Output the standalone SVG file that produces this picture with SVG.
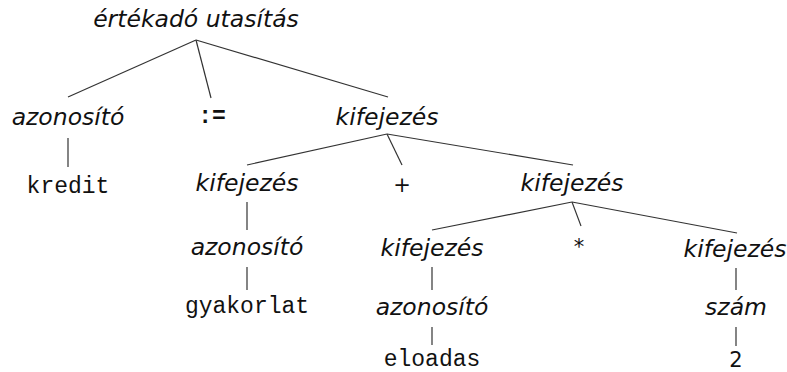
<svg xmlns="http://www.w3.org/2000/svg" width="787" height="372" viewBox="0 0 787 372">
  <style>
    .nt { font-family: "DejaVu Sans", sans-serif; font-style: italic; font-size: 23.5px; fill: #111; text-anchor: middle; }
    .tok { font-family: "Liberation Mono", "DejaVu Sans Mono", monospace; font-size: 23px; fill: #111; text-anchor: middle; }
    .sym { font-family: "DejaVu Sans", sans-serif; font-size: 21px; fill: #111; text-anchor: middle; }
    .edges line { stroke: #333; stroke-width: 1.2; }
  </style>
  <rect width="787" height="372" fill="#fff"/>

  <!-- tree edges -->
  <g id="edges" class="edges">
    <line x1="196" y1="40" x2="68" y2="97"/>
    <line x1="196" y1="40" x2="211" y2="98"/>
    <line x1="196" y1="40" x2="388" y2="97"/>
    <line x1="68" y1="138" x2="68" y2="167"/>
    <line x1="387" y1="134" x2="247" y2="165"/>
    <line x1="387" y1="134" x2="402" y2="165"/>
    <line x1="387" y1="134" x2="573" y2="165"/>
    <line x1="247" y1="202" x2="247" y2="230"/>
    <line x1="247" y1="267" x2="247" y2="290"/>
    <line x1="572" y1="202" x2="432" y2="230"/>
    <line x1="572" y1="202" x2="581" y2="226"/>
    <line x1="572" y1="202" x2="737" y2="233"/>
    <line x1="432" y1="267" x2="432" y2="290"/>
    <line x1="432" y1="327" x2="432" y2="345"/>
    <line x1="736" y1="268" x2="736" y2="290"/>
    <line x1="736" y1="327" x2="736" y2="346"/>
  </g>

  <g id="n-root"><text class="nt" x="196" y="27">értékadó utasítás</text></g>
  <g id="n-azon1"><text class="nt" x="68" y="125">azonosító</text></g>
  <g id="n-assign"><text class="tok" x="212" y="123" font-weight="bold">:=</text></g>
  <g id="n-kif1"><text class="nt" x="387" y="125">kifejezés</text></g>
  <g id="n-kredit"><text class="tok" x="68" y="193">kredit</text></g>
  <g id="n-kif2a"><text class="nt" x="247" y="191">kifejezés</text></g>
  <g id="n-plus"><text class="sym" x="402" y="192">+</text></g>
  <g id="n-kif2b"><text class="nt" x="572" y="191">kifejezés</text></g>
  <g id="n-azon2"><text class="nt" x="247" y="255">azonosító</text></g>
  <g id="n-kif3a"><text class="nt" x="432" y="256">kifejezés</text></g>
  <g id="n-times"><text class="sym" x="579" y="254">*</text></g>
  <g id="n-kif3b"><text class="nt" x="735" y="257">kifejezés</text></g>
  <g id="n-gyak"><text class="tok" x="247" y="313">gyakorlat</text></g>
  <g id="n-azon3"><text class="nt" x="432" y="315">azonosító</text></g>
  <g id="n-szam"><text class="nt" x="736" y="315">szám</text></g>
  <g id="n-eloadas"><text class="tok" x="432" y="366">eloadas</text></g>
  <g id="n-two"><text class="sym" x="736" y="367">2</text></g>
</svg>
